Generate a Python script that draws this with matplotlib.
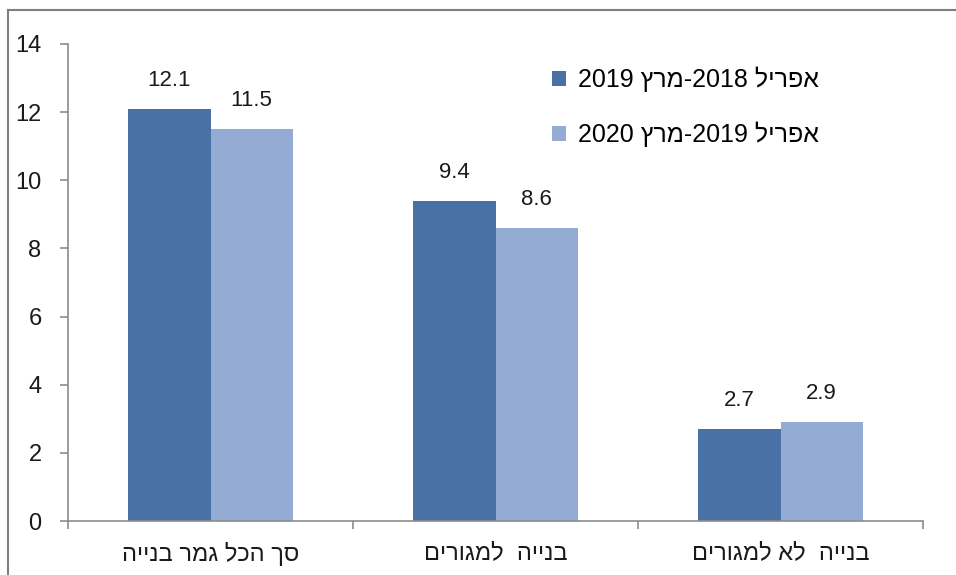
import re
import matplotlib
matplotlib.use("Agg")
import matplotlib.pyplot as plt
from matplotlib.patches import Patch
from matplotlib.lines import Line2D
import numpy as np

plt.rcParams['font.family'] = ['Liberation Sans', 'DejaVu Sans']


def visual(s):
    """Lay out right-to-left Hebrew text for left-to-right rendering, keeping numbers intact."""
    r = s[::-1]
    return re.sub(r'\d+', lambda m: m.group(0)[::-1], r)


categories = ["סך הכל גמר בנייה", "בנייה  למגורים", "בנייה  לא למגורים"]
series_names = ["אפריל 2018-מרץ 2019", "אפריל 2019-מרץ 2020"]
values_2018_19 = [12.1, 9.4, 2.7]
values_2019_20 = [11.5, 8.6, 2.9]
y_ticks = [0, 2, 4, 6, 8, 10, 12, 14]

dark = "#4A71A6"
light = "#94ACD3"
axis_grey = "#8C8C8C"
text_col = "#1a1a1a"

fig = plt.figure(figsize=(9.56, 5.75), dpi=100)
ax = fig.add_axes([68 / 956, 54 / 575, 855 / 956, 477 / 575])

x = np.arange(len(categories))
w = 0.288
b1 = ax.bar(x - w / 2, values_2018_19, w, color=dark)
b2 = ax.bar(x + w / 2, values_2019_20, w, color=light)

for bars, vals in ((b1, values_2018_19), (b2, values_2019_20)):
    for rect, v in zip(bars, vals):
        ax.annotate(f"{v:.1f}", (rect.get_x() + rect.get_width() / 2, v),
                    xytext=(0, 13), textcoords="offset points",
                    ha="center", va="bottom", fontsize=16, color=text_col)

ax.set_xlim(-0.5, len(categories) - 0.5)
ax.set_ylim(0, 14)
ax.set_yticks(y_ticks)
ax.set_yticklabels([str(t) for t in y_ticks], fontsize=17, color=text_col)
ax.set_xticks(x)
ax.set_xticklabels([visual(c) for c in categories], fontsize=17, color=text_col)
ax.set_xticks(np.arange(len(categories) + 1) - 0.5, minor=True)
ax.tick_params(axis="x", which="major", length=0, pad=15)
ax.tick_params(axis="x", which="minor", length=6, width=1.2, color=axis_grey, direction="out")
ax.tick_params(axis="y", length=6, width=1.2, color=axis_grey, pad=13, direction="out")

for side in ("top", "right"):
    ax.spines[side].set_visible(False)
for side in ("left", "bottom"):
    ax.spines[side].set_color(axis_grey)
    ax.spines[side].set_linewidth(1.2)

handles = [Patch(facecolor=dark), Patch(facecolor=light)]
ax.legend(handles, [visual(s) for s in series_names], loc="upper left",
          bbox_to_anchor=(0.540, 1.0), frameon=False, fontsize=18,
          borderaxespad=0.5, handlelength=0.55, handleheight=0.55,
          handletextpad=0.5, labelspacing=1.2)

# outer frame along the top and left of the figure
fig.add_artist(Line2D([8 / 956, 1.0], [1 - 10 / 575, 1 - 10 / 575],
                      transform=fig.transFigure, color="#7F7F7F", lw=1.5))
fig.add_artist(Line2D([8 / 956, 8 / 956], [0.0, 1 - 10 / 575],
                      transform=fig.transFigure, color="#7F7F7F", lw=1.5))

fig.savefig("out.png", dpi=100)
